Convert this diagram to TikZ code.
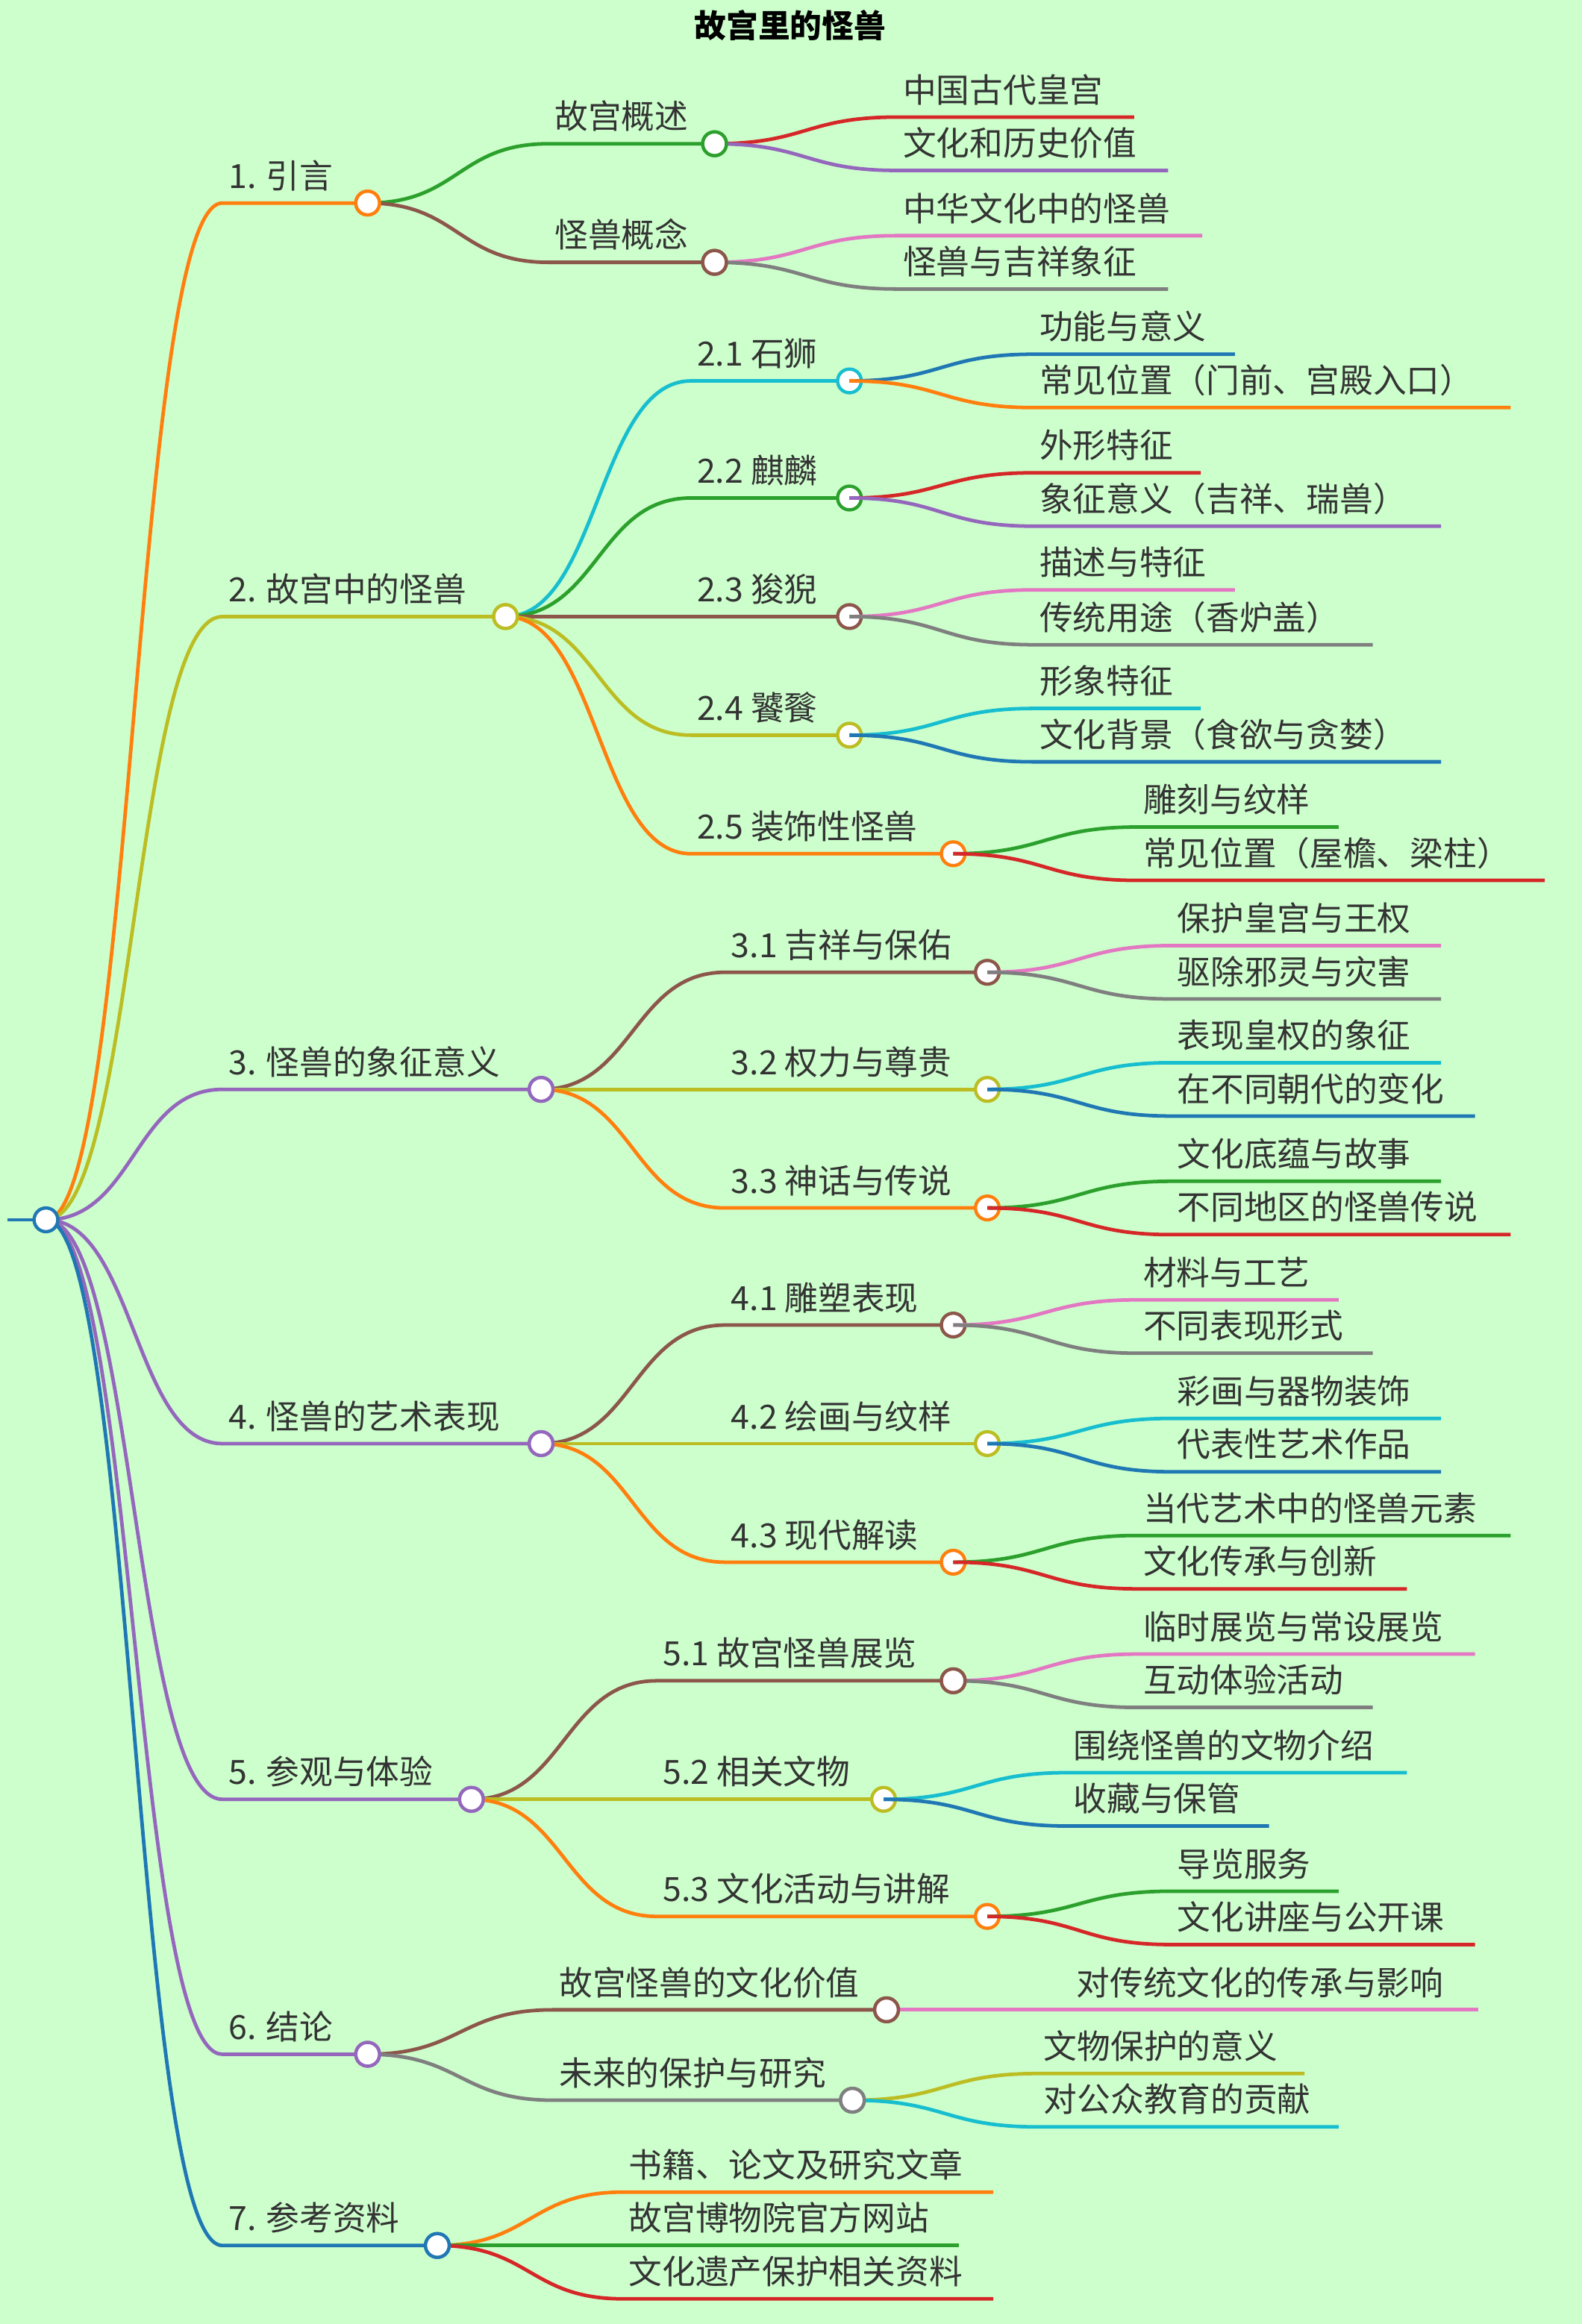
\documentclass[tikz,border=0pt]{standalone}
\usepackage{fontspec}
\setmainfont{Noto Sans CJK SC}
\usetikzlibrary{calc}
\definecolor{cO}{HTML}{FF7F0E}\definecolor{cG}{HTML}{2CA02C}\definecolor{cR}{HTML}{D62728}
\definecolor{cP}{HTML}{9467BD}\definecolor{cB}{HTML}{8C564B}\definecolor{cK}{HTML}{E377C2}
\definecolor{cY}{HTML}{7F7F7F}\definecolor{cL}{HTML}{BCBD22}\definecolor{cC}{HTML}{17BECF}
\definecolor{cU}{HTML}{1F77B4}\definecolor{bg}{HTML}{CCFFCC}\definecolor{tx}{HTML}{333333}
\tikzset{edge/.style={line width=2.4pt},
 dot/.style={circle,draw=#1,fill=white,line width=2.2pt,minimum size=16pt,inner sep=0pt},
 lbl/.style={anchor=base west,inner sep=0pt,text=tx,font=\fontsize{22.5}{25}\selectfont}}
\newcommand\mmedge[6]{%
 \coordinate (#2s) at (#3,#5);\coordinate (#2) at (#4,#5);
 \node[lbl] (#2t) at ($(#3,#5)+(4,-10)$) {#6};
 \draw[edge] let \p1=(#1), \p2=(#2s) in (\p1) .. controls ({(\x1+\x2)/2},\y1) and ({(\x1+\x2)/2},\y2) .. (\p2) -- (#2);}
\begin{document}
\begin{tikzpicture}[x=1pt,y=-1pt]
\fill[bg] (0,0) rectangle (1067,1568);
\useasboundingbox (0,0) rectangle (1067,1568);
\node[font=\bfseries\fontsize{21.5}{24}\selectfont,text=black] (title) at (533,17) {故宫里的怪兽};
\coordinate (r) at (31,823); \coordinate (r0) at (5,823);
\draw[edge,cU] (r0) -- (r);
\newcommand\X[8]{\begin{scope}[color=#6]\mmedge{#1}{#2}{#3}{#4}{#5}{#7}\ifnum#8=1 \node[dot=#6] at (#2) {};\fi\end{scope}}
\X{r}{a}{150}{248}{137}{cO}{1. 引言}{1}
\X{r}{b}{150}{341}{416}{cL}{2. 故宫中的怪兽}{1}
\X{r}{c}{150}{365}{735}{cP}{3. 怪兽的象征意义}{1}
\X{r}{d}{150}{365}{974}{cP}{4. 怪兽的艺术表现}{1}
\X{r}{e}{150}{318}{1214}{cP}{5. 参观与体验}{1}
\X{r}{f}{150}{248}{1386}{cP}{6. 结论}{1}
\X{r}{g}{150}{295}{1515}{cU}{7. 参考资料}{1}
% 1
\X{a}{a1}{370}{482}{97}{cG}{故宫概述}{1}
\X{a}{a2}{370}{482}{177}{cB}{怪兽概念}{1}
\X{a1}{a11}{605}{765}{79}{cR}{中国古代皇宫}{0}
\X{a1}{a12}{605}{788}{115}{cP}{文化和历史价值}{0}
\X{a2}{a21}{605}{811}{159}{cK}{中华文化中的怪兽}{0}
\X{a2}{a22}{605}{788}{195}{cY}{怪兽与吉祥象征}{0}
% 2
\X{b}{b1}{466}{573}{257}{cC}{2.1 石狮}{1}
\X{b}{b2}{466}{573}{336}{cG}{2.2 麒麟}{1}
\X{b}{b3}{466}{573}{416}{cB}{2.3 狻猊}{1}
\X{b}{b4}{466}{573}{496}{cL}{2.4 饕餮}{1}
\X{b}{b5}{466}{643}{576}{cO}{2.5 装饰性怪兽}{1}
\X{b1}{b11}{697}{833}{239}{cU}{功能与意义}{0}
\X{b1}{b12}{697}{1019}{275}{cO}{常见位置（门前、宫殿入口）}{0}
\X{b2}{b21}{697}{810}{319}{cR}{外形特征}{0}
\X{b2}{b22}{697}{972}{355}{cP}{象征意义（吉祥、瑞兽）}{0}
\X{b3}{b31}{697}{833}{398}{cK}{描述与特征}{0}
\X{b3}{b32}{697}{926}{435}{cY}{传统用途（香炉盖）}{0}
\X{b4}{b41}{697}{810}{478}{cC}{形象特征}{0}
\X{b4}{b42}{697}{972}{514}{cU}{文化背景（食欲与贪婪）}{0}
\X{b5}{b51}{767}{903}{558}{cG}{雕刻与纹样}{0}
\X{b5}{b52}{767}{1042}{594}{cR}{常见位置（屋檐、梁柱）}{0}
% 3
\X{c}{c1}{489}{666}{656}{cB}{3.1 吉祥与保佑}{1}
\X{c}{c2}{489}{666}{735}{cL}{3.2 权力与尊贵}{1}
\X{c}{c3}{489}{666}{815}{cO}{3.3 神话与传说}{1}
\X{c1}{c11}{790}{972}{638}{cK}{保护皇宫与王权}{0}
\X{c1}{c12}{790}{972}{674}{cY}{驱除邪灵与灾害}{0}
\X{c2}{c21}{790}{972}{717}{cC}{表现皇权的象征}{0}
\X{c2}{c22}{790}{995}{753}{cU}{在不同朝代的变化}{0}
\X{c3}{c31}{790}{972}{797}{cG}{文化底蕴与故事}{0}
\X{c3}{c32}{790}{1019}{833}{cR}{不同地区的怪兽传说}{0}
% 4
\X{d}{d1}{489}{643}{894}{cB}{4.1 雕塑表现}{1}
\X{d}{d2}{489}{666}{974}{cL}{4.2 绘画与纹样}{1}
\X{d}{d3}{489}{643}{1054}{cO}{4.3 现代解读}{1}
\X{d1}{d11}{767}{903}{877}{cK}{材料与工艺}{0}
\X{d1}{d12}{767}{926}{913}{cY}{不同表现形式}{0}
\X{d2}{d21}{790}{972}{957}{cC}{彩画与器物装饰}{0}
\X{d2}{d22}{790}{972}{993}{cU}{代表性艺术作品}{0}
\X{d3}{d31}{767}{1019}{1036}{cG}{当代艺术中的怪兽元素}{0}
\X{d3}{d32}{767}{949}{1072}{cR}{文化传承与创新}{0}
% 5
\X{e}{e1}{443}{643}{1134}{cB}{5.1 故宫怪兽展览}{1}
\X{e}{e2}{443}{596}{1214}{cL}{5.2 相关文物}{1}
\X{e}{e3}{443}{666}{1293}{cO}{5.3 文化活动与讲解}{1}
\X{e1}{e11}{767}{995}{1116}{cK}{临时展览与常设展览}{0}
\X{e1}{e12}{767}{926}{1152}{cY}{互动体验活动}{0}
\X{e2}{e21}{720}{949}{1196}{cC}{围绕怪兽的文物介绍}{0}
\X{e2}{e22}{720}{856}{1232}{cU}{收藏与保管}{0}
\X{e3}{e31}{790}{903}{1276}{cG}{导览服务}{0}
\X{e3}{e32}{790}{995}{1312}{cR}{文化讲座与公开课}{0}
% 6
\X{f}{f1}{373}{598}{1356}{cB}{故宫怪兽的文化价值}{1}
\X{f}{f2}{373}{575}{1417}{cY}{未来的保护与研究}{1}
\X{f1}{f11}{722}{997}{1356}{cK}{对传统文化的传承与影响}{0}
\X{f2}{f21}{700}{880}{1399}{cL}{文物保护的意义}{0}
\X{f2}{f22}{700}{903}{1435}{cC}{对公众教育的贡献}{0}
% 7
\X{g}{g1}{420}{670}{1479}{cO}{书籍、论文及研究文章}{0}
\X{g}{g2}{420}{647}{1515}{cG}{故宫博物院官方网站}{0}
\X{g}{g3}{420}{670}{1551}{cR}{文化遗产保护相关资料}{0}
\foreach \n/\c in {a/cO,b/cL,c/cP,d/cP,e/cP,f/cP,g/cU,a1/cG,a2/cB,f1/cB,f2/cY,e1/cB}{\node[dot=\c] at (\n) {};}
\node[dot=cU] (root) at (r) {};
\end{tikzpicture}
\end{document}
